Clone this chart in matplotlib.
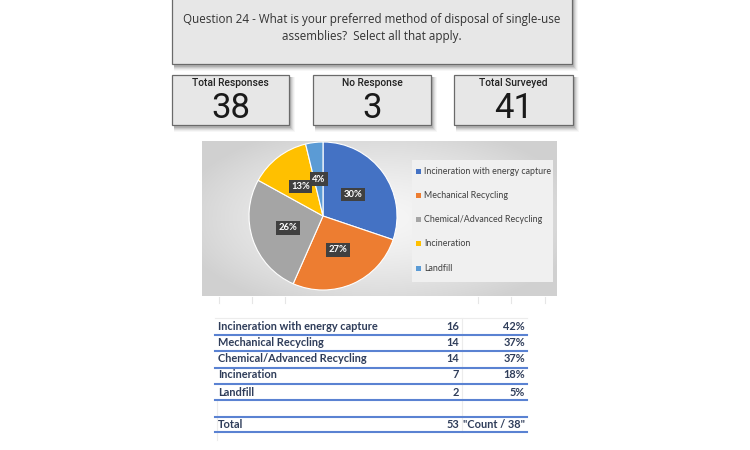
import numpy as np
import matplotlib
matplotlib.use("Agg")
import matplotlib.pyplot as plt
from matplotlib.patches import Rectangle

# ---- data ----
question = "Question 24 - What is your preferred method of disposal of single-use\nassemblies?  Select all that apply."
kpi_labels = ["Total Responses", "No Response", "Total Surveyed"]
kpi_values = [38, 3, 41]

methods = [
    "Incineration with energy capture",
    "Mechanical Recycling",
    "Chemical/Advanced Recycling",
    "Incineration",
    "Landfill",
]
counts = [16, 14, 14, 7, 2]
pie_labels = ["30%", "27%", "26%", "13%", "4%"]
colors = ["#4472C4", "#ED7D31", "#A5A5A5", "#FFC000", "#5B9BD5"]
total_responses = 38

W, H = 750, 450
fig = plt.figure(figsize=(7.5, 4.5), dpi=100)
ax = fig.add_axes([0, 0, 1, 1])
ax.set_xlim(0, W)
ax.set_ylim(H, 0)
ax.axis("off")


def box_with_shadow(x0, y0, x1, y1, fc="#e7e7e7", ec="#6a6a6a"):
    for k, a in zip([6, 5, 4, 3, 2], [0.04, 0.06, 0.09, 0.12, 0.16]):
        ax.add_patch(Rectangle((x0 + 2, y0 + 2), x1 - x0 + k - 2, y1 - y0 + k - 1,
                               fc="#404040", ec="none", alpha=a, zorder=1))
    ax.add_patch(Rectangle((x0, y0), x1 - x0, y1 - y0, fc=fc, ec=ec, lw=0.9, zorder=2))


# question box
box_with_shadow(172, -2, 572, 64)
ax.text(372, 28, question, ha="center", va="center", fontsize=8.4,
        family="Open Sans", color="#333333", linespacing=1.35, zorder=3)

# KPI boxes
kpi_x = [(172, 289), (313, 431), (454, 573)]
for (x0, x1), lab, val in zip(kpi_x, kpi_labels, kpi_values):
    box_with_shadow(x0, 75, x1, 125)
    cx = (x0 + x1) / 2
    ax.text(cx, 83, lab, ha="center", va="center", fontsize=7.4,
            family="Roboto", fontweight="medium", color="#222222", zorder=3)
    ax.text(cx, 108, str(val), ha="center", va="center", fontsize=25,
            family="Roboto", color="#1a1a1a", zorder=3)

# pie panel gradient background
px0, px1, py0, py1 = 202, 557, 141, 296
gx = np.linspace(-1, 1, 300)
gy = np.linspace(-1, 1, 150)
GX, GY = np.meshgrid(gx, gy)
r = np.sqrt((GX / 1.0) ** 2 + (GY / 1.1) ** 2)
shade = 0.965 - 0.12 * np.clip(r, 0, 1.15) ** 1.5
ax.imshow(np.dstack([shade] * 3), extent=[px0, px1, py1, py0], aspect="auto",
          interpolation="bilinear", zorder=1)

# faint gridline stubs under panel
for gxp in [219, 252, 285, 478, 511, 545]:
    ax.plot([gxp, gxp], [297, 303], color="#e6e6e6", lw=0.8, zorder=1)

# pie
cx, cy, rad = 323, 216, 74
ax_pie = fig.add_axes([(cx - rad) / W, (H - cy - rad) / H, 2 * rad / W, 2 * rad / H])
wedges, _ = ax_pie.pie(counts, colors=colors, startangle=90, counterclock=False,
                       wedgeprops=dict(edgecolor="white", linewidth=0.8))
ax_pie.set_xlim(-1, 1)
ax_pie.set_ylim(-1, 1)
ax_pie.axis("off")
for w, lab in zip(wedges, pie_labels):
    ang = np.deg2rad((w.theta1 + w.theta2) / 2)
    ax_pie.text(0.5 * np.cos(ang), 0.5 * np.sin(ang), lab, ha="center", va="center",
                fontsize=6.8, fontweight="bold", color="white", family="Lato",
                bbox=dict(boxstyle="square,pad=0.25", fc="#404040", ec="none"))

# legend
ax.add_patch(Rectangle((412, 160), 141, 122, fc="#f0f0f0", ec="none", zorder=2))
for i, (m, c) in enumerate(zip(methods, colors)):
    ly = 171 + i * 24.3
    ax.add_patch(Rectangle((416, ly - 2.5), 5, 5, fc=c, ec="none", zorder=3))
    ax.text(424, ly, m, ha="left", va="center", fontsize=6.4, family="Lato",
            color="#404040", zorder=3)

# table
tcol = "#2F3D5A"
line_col = "#5A82D2"
fs = 7.9
ax.plot([215, 527], [318, 318], color="#ececec", lw=0.8)
ax.plot([462, 462], [318, 432], color="#ececec", lw=0.8)
ax.plot([217, 217], [400, 440], color="#ececec", lw=0.8)
row_y = [326, 343, 359, 375, 392]
for y, m, c in zip(row_y, methods, counts):
    ax.text(218, y, m, ha="left", va="center", fontsize=fs, fontweight="bold",
            family="Lato", color=tcol)
    ax.text(459, y, str(c), ha="right", va="center", fontsize=fs, fontweight="bold",
            family="Lato", color=tcol)
    ax.text(525, y, f"{round(100 * c / total_responses)}%", ha="right", va="center",
            fontsize=fs, fontweight="bold", family="Lato", color=tcol)
ax.text(218, 424, "Total", ha="left", va="center", fontsize=fs, fontweight="bold",
        family="Lato", color=tcol)
ax.text(459, 424, str(sum(counts)), ha="right", va="center", fontsize=fs,
        fontweight="bold", family="Lato", color=tcol)
ax.text(525, 424, '"Count / 38"', ha="right", va="center", fontsize=fs,
        fontweight="bold", family="Lato", color=tcol)
for ly in [334.5, 351, 367.5, 384, 400, 416.5, 432]:
    ax.plot([215, 527], [ly, ly], color=line_col, lw=1.5)

fig.savefig("out.png", dpi=100, facecolor="white")
